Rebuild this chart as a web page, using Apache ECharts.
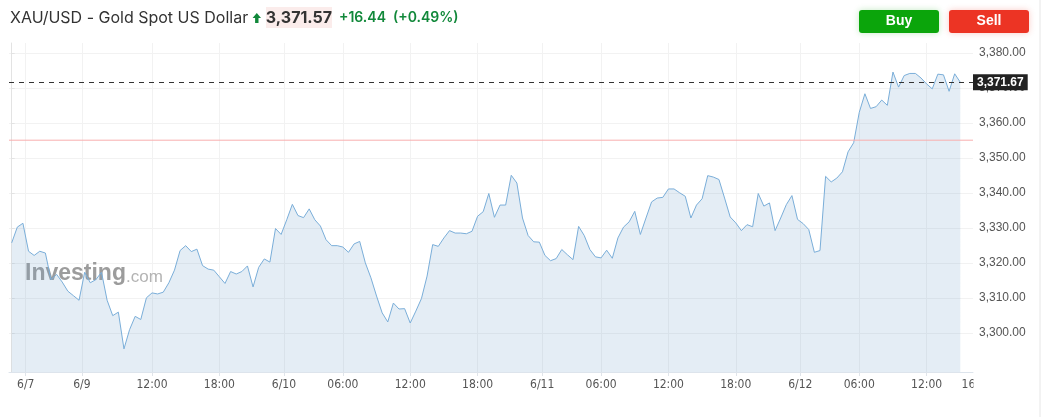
<!DOCTYPE html>
<html><head><meta charset="utf-8">
<script src="https://cdn.jsdelivr.net/npm/echarts@6/dist/echarts.min.js"></script>
<style>html,body{margin:0;padding:0;background:#fff;overflow:hidden}#c{width:1041px;height:417px;}</style>
</head><body><div id="c"></div>
<script>
const instrument = 'XAU/USD - Gold Spot US Dollar';
const lastPrice = '3,371.57';
const change = '+16.44';
const changePct = '(+0.49%)';
const prevClose = 3355.13;
const currentValue = 3371.67;
const yTicks = [3300, 3310, 3320, 3330, 3340, 3350, 3360, 3370, 3380];
const xTickPos = [2.5, 12.5, 25, 37, 48.5, 59, 71, 83, 94.5, 105, 117, 129, 140.5, 151, 163, 172];
const xTickLabels = ['6/7', '6/9', '12:00', '18:00', '6/10', '06:00', '12:00', '18:00', '6/11', '06:00', '12:00', '18:00', '6/12', '06:00', '12:00', '16:00'];
const prices = [
  3325.8, 3330.3, 3331.4, 3323.4, 3322.2, 3323.4, 3322.9, 3315.3, 3316.8, 3314.6,
  3312.0, 3310.7, 3309.4, 3317.4, 3314.4, 3315.3, 3317.4, 3309.4, 3305.0, 3306.0,
  3295.5, 3301.0, 3304.8, 3303.9, 3310.1, 3311.5, 3311.2, 3311.7, 3314.4, 3318.0,
  3323.6, 3325.0, 3323.3, 3324.0, 3319.3, 3318.3, 3318.0, 3316.1, 3314.2, 3317.6,
  3316.9, 3317.6, 3319.2, 3313.2, 3318.8, 3321.2, 3320.3, 3329.9, 3328.2, 3332.4,
  3336.8, 3333.6, 3333.0, 3335.5, 3332.4, 3330.6, 3326.7, 3325.0, 3325.0, 3324.6,
  3323.1, 3325.5, 3326.2, 3320.1, 3315.8, 3310.6, 3305.8, 3303.2, 3308.6, 3306.9,
  3307.0, 3302.9, 3306.3, 3309.9, 3316.3, 3325.3, 3324.8, 3327.2, 3329.3, 3328.6,
  3328.6, 3328.4, 3329.1, 3333.4, 3334.7, 3339.9, 3333.1, 3336.6, 3336.6, 3345.1,
  3342.9, 3332.9, 3327.9, 3326.1, 3326.0, 3322.2, 3320.7, 3321.3, 3323.9, 3322.4,
  3321.0, 3330.5, 3327.9, 3323.9, 3321.8, 3321.5, 3323.7, 3321.4, 3327.2, 3330.3,
  3331.8, 3334.8, 3328.2, 3332.9, 3337.5, 3338.6, 3338.8, 3341.2, 3341.2, 3340.1,
  3339.1, 3332.9, 3336.6, 3338.4, 3345.0, 3344.6, 3343.9, 3338.6, 3333.2, 3331.5,
  3329.3, 3331.0, 3330.4, 3339.9, 3336.3, 3337.2, 3329.3, 3332.9, 3336.7, 3339.3,
  3332.5, 3331.3, 3329.6, 3323.1, 3323.6, 3344.8, 3343.2, 3344.3, 3346.1, 3351.8,
  3354.4, 3363.1, 3368.4, 3364.2, 3364.7, 3366.6, 3365.1, 3374.6, 3370.3, 3373.6,
  3374.2, 3374.2, 3372.9, 3371.2, 3369.8, 3374.0, 3373.8, 3369.1, 3374.1, 3371.67
];

const X_MIN = -0.48, X_MAX = 171.26;
const Y_MIN = 3288.9, Y_MAX = 3382.9;
const nf = new Intl.NumberFormat('en-US', {minimumFractionDigits: 2, maximumFractionDigits: 2});
const visTicks = xTickPos.filter(v => v >= X_MIN && v <= X_MAX);
const labelFor = v => { const i = xTickPos.indexOf(v); return i >= 0 ? xTickLabels[i] : ''; };
const xFont = "'DejaVu Sans Condensed','Liberation Sans Narrow',sans-serif";

const chart = echarts.init(document.getElementById('c'), null, {renderer: 'canvas'});

const headerGraphics = [
  {type: 'text', x: 10, y: 18, z: 10, style: {text: instrument, fill: '#333', font: '16px Inter, sans-serif', verticalAlign: 'middle'}},
  {type: 'polygon', z: 10, shape: {points: [[256.8,13],[261,18],[258.5,18],[258.5,23],[255.1,23],[255.1,18],[252.6,18]]}, style: {fill: '#11883a'}},
  {type: 'rect', z: 9, shape: {x: 266, y: 7, width: 66, height: 21}, style: {fill: '#fbeceb'}},
  {type: 'text', x: 299, y: 18, z: 10, style: {text: lastPrice, fill: '#333', font: 'bold 16px Inter, sans-serif', align: 'center', verticalAlign: 'middle'}},
  {type: 'text', x: 339, y: 18, z: 10, style: {text: change, fill: '#11883a', font: '600 14px Inter, sans-serif', verticalAlign: 'middle'}},
  {type: 'text', x: 393, y: 18, z: 10, style: {text: changePct, fill: '#11883a', font: '600 14px Inter, sans-serif', verticalAlign: 'middle'}},
  {type: 'rect', z: 10, shape: {x: 859, y: 10, width: 80, height: 23, r: 3}, style: {fill: '#0ba50b', shadowBlur: 6, shadowColor: 'rgba(20,170,20,0.25)'}},
  {type: 'text', x: 899, y: 21.5, z: 11, style: {text: 'Buy', fill: '#fff', font: 'bold 14px "Liberation Sans", Arial, sans-serif', align: 'center', verticalAlign: 'middle'}},
  {type: 'rect', z: 10, shape: {x: 949, y: 10, width: 80, height: 23, r: 3}, style: {fill: '#ec3424', shadowBlur: 6, shadowColor: 'rgba(236,52,36,0.25)'}},
  {type: 'text', x: 989, y: 21.5, z: 11, style: {text: 'Sell', fill: '#fff', font: 'bold 14px "Liberation Sans", Arial, sans-serif', align: 'center', verticalAlign: 'middle'}},
  {type: 'line', z: 10, shape: {x1: 1040, y1: 0, x2: 1040, y2: 417}, style: {stroke: '#e6e6e6', lineWidth: 1}},
  {type: 'text', x: 25, y: 274, z: 1, style: {
    text: '{a|Investing}{b|.com}',
    rich: {
      a: {fontFamily: '"Liberation Sans", Arial, sans-serif', fontWeight: 'bold', fontSize: 23, fill: '#9c9c9c', verticalAlign: 'bottom'},
      b: {fontFamily: '"Liberation Sans", Arial, sans-serif', fontSize: 17, fill: '#b3b3b3', verticalAlign: 'bottom'}
    },
    verticalAlign: 'middle'}}
];

chart.setOption({
  animation: false,
  backgroundColor: '#fff',
  grid: {left: 9, right: 68, top: 43, bottom: 45, containLabel: false},
  xAxis: {
    type: 'value', min: X_MIN, max: X_MAX,
    axisLine: {show: true, lineStyle: {color: '#dde4ec', width: 1}},
    axisTick: {show: true, customValues: visTicks, length: 4, lineStyle: {color: '#dfe4ea'}},
    axisLabel: {customValues: visTicks, formatter: labelFor, color: '#555', fontFamily: xFont, fontSize: 12, margin: 7},
    splitLine: {show: true, lineStyle: {color: '#f2f2f2', width: 1}}
  },
  yAxis: {
    type: 'value', position: 'right', min: Y_MIN, max: Y_MAX, scale: true,
    axisLine: {show: true, lineStyle: {color: '#e3e3e3'}},
    axisTick: {show: true, customValues: yTicks, length: 3, lineStyle: {color: '#e3e3e3'}},
    axisLabel: {customValues: yTicks, formatter: v => nf.format(v), color: '#555', fontFamily: '"Liberation Sans", Arial, sans-serif', fontSize: 12, margin: 6, padding: [0, 0, 3, 0]},
    splitLine: {show: true, lineStyle: {color: '#f2f2f2', width: 1}}
  },
  series: [{
    type: 'line',
    data: prices.map((v, i) => [i, v]),
    symbol: 'none',
    lineStyle: {color: '#7aaed9', width: 1},
    areaStyle: {color: 'rgb(120,165,205)', opacity: 0.2, origin: 'start'},
    z: 2,
    markLine: {
      silent: true, symbol: 'none', animation: false,
      data: [
        {yAxis: currentValue, lineStyle: {color: '#333', type: [5, 5], width: 1},
         label: {show: true, position: 'end', distance: 0, formatter: () => nf.format(currentValue),
                 backgroundColor: '#222', color: '#fff', fontWeight: 'bold', fontSize: 12,
                 fontFamily: '"Liberation Sans", Arial, sans-serif', padding: [2, 4, 2, 4]}}
      ]
    }
  }, {
    name: 'Previous close',
    type: 'line',
    data: [[X_MIN, prevClose], [X_MAX, prevClose]],
    symbol: 'none',
    silent: true,
    lineStyle: {color: '#f8aeae', width: 1, type: 'solid'},
    itemStyle: {color: '#f8aeae'},
    z: 3
  }],
  graphic: headerGraphics
});

// tick labels beyond the axis extent (clipped at the plot edge, as in the source)
const extra = [];
xTickPos.forEach((v, i) => {
  if (v > X_MAX) {
    const px = chart.convertToPixel({xAxisIndex: 0}, v);
    extra.push({type: 'text', x: px, y: 379, z: 5, style: {text: xTickLabels[i], fill: '#555', font: '12px ' + xFont, align: 'center', verticalAlign: 'top'}});
  }
});
extra.push({type: 'rect', z: 6, shape: {x: 973.5, y: 376, width: 60, height: 22}, style: {fill: '#fff'}});
chart.setOption({graphic: headerGraphics.concat(extra)});
</script>
</body></html>
